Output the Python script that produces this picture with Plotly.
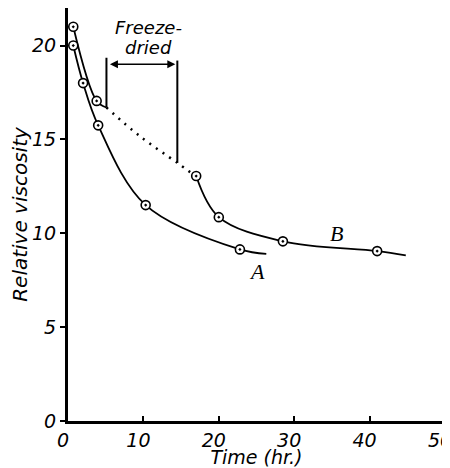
import plotly.graph_objects as go

# Measured points
a_time = [0.7, 2.0, 4.0, 10.3, 22.8]
a_visc = [20.0, 18.0, 15.75, 11.5, 9.14]
b_time = [0.7, 3.8, 17.0, 20.0, 28.5, 41.0]
b_visc = [21.0, 17.05, 13.05, 10.86, 9.57, 9.05]

# Hand-drawn curves
a_curve_time = [0.7, 2.0, 4.0, 10.3, 22.8, 26.3]
a_curve_visc = [20.0, 18.0, 15.75, 11.5, 9.14, 8.9]
b1_curve_time = [0.7, 3.8, 5.1]
b1_curve_visc = [21.0, 17.05, 16.7]
b_dotted_time = [5.1, 9.6, 14.5, 16.4]
b_dotted_visc = [16.7, 15.15, 13.75, 13.2]
b2_curve_time = [17.0, 20.0, 28.5, 41.0, 44.8]
b2_curve_visc = [13.05, 10.86, 9.57, 9.05, 8.82]

# Freeze-dried interval
freeze_start, freeze_end = 5.1, 14.5
freeze_top = [19.35, 19.2]
freeze_bottom = [16.7, 13.75]
arrow_level = 19.0

x_ticks = [0, 10, 20, 30, 40, 50]
y_ticks = [0, 5, 10, 15, 20]

INK = "black"
SANS = "DejaVu Sans"
SERIF = "Liberation Serif"

fig = go.Figure()

def curve(x, y, dash="solid", width=1.8):
    fig.add_trace(go.Scatter(x=x, y=y, mode="lines",
                             line=dict(color=INK, width=width, shape="spline", dash=dash),
                             hoverinfo="skip", showlegend=False))

curve(a_curve_time, a_curve_visc)
curve(b1_curve_time, b1_curve_visc)
curve(b_dotted_time, b_dotted_visc, dash="2px,6px", width=2.5)
curve(b2_curve_time, b2_curve_visc)

# freeze-dried bracket lines
for xv, y0, y1 in zip([freeze_start, freeze_end], freeze_bottom, freeze_top):
    fig.add_trace(go.Scatter(x=[xv, xv], y=[y0, y1], mode="lines",
                             line=dict(color=INK, width=2), hoverinfo="skip", showlegend=False))

marker = dict(symbol="circle-dot", size=9, color="white", line=dict(color=INK, width=1.6))
fig.add_trace(go.Scatter(x=a_time, y=a_visc, mode="markers", marker=marker, showlegend=False))
fig.add_trace(go.Scatter(x=b_time, y=b_visc, mode="markers", marker=marker, showlegend=False))

fig.add_annotation(x=freeze_end, y=arrow_level, ax=freeze_start, ay=arrow_level,
                   xref="x", yref="y", axref="x", ayref="y", text="",
                   showarrow=True, arrowside="end+start", arrowhead=2, arrowsize=1,
                   arrowwidth=1.6, arrowcolor=INK, standoff=2, startstandoff=2)

text_font = dict(family=SANS, size=18, color=INK, style="italic")
fig.add_annotation(x=10.7, y=20.95, text="Freeze-", showarrow=False, font=text_font)
fig.add_annotation(x=10.7, y=19.9, text="dried", showarrow=False, font=text_font)
label_font = dict(family=SERIF, size=22, color=INK, style="italic")
fig.add_annotation(x=25.0, y=7.95, text="A", showarrow=False, font=label_font)
fig.add_annotation(x=35.6, y=10.0, text="B", showarrow=False, font=label_font)

tick_font = dict(family=SANS, size=19, color=INK, style="italic")
fig.update_xaxes(range=[0, 50], tickvals=x_ticks, ticks="inside", ticklen=5, tickwidth=2,
                 tickcolor=INK, showline=True, linecolor=INK, linewidth=3, showgrid=False,
                 zeroline=False, tickfont=tick_font, automargin=False, ticklabeloverflow="allow",
                 ticklabelshift=-5,
                 title=dict(text="Time (hr.)", font=dict(family=SANS, size=19, color=INK, style="italic"),
                            standoff=6))
fig.update_yaxes(range=[0, 22], tickvals=y_ticks, ticks="outside", ticklen=5, tickwidth=2,
                 tickcolor=INK, showline=True, linecolor=INK, linewidth=3, showgrid=False,
                 zeroline=False, tickfont=tick_font, automargin=False,
                 title=dict(text="Relative viscosity", font=dict(family=SANS, size=20, color=INK, style="italic"),
                            standoff=3))
# page body has an 8px default margin; the figure is sized/offset to compensate
fig.update_layout(width=442, height=460, margin=dict(l=60, r=5, t=0, b=47),
                  plot_bgcolor="white", paper_bgcolor="white", showlegend=False)

fig.write_html("out.html")
